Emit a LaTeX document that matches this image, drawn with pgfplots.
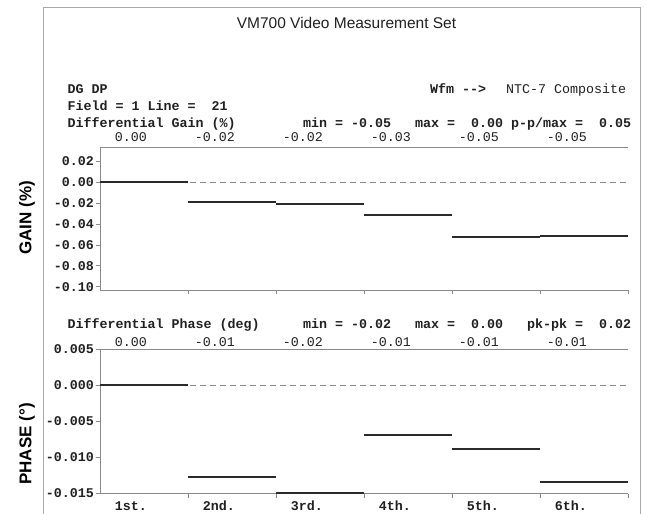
\documentclass[border=0pt]{standalone}
\usepackage{pgfplots}
\pgfplotsset{compat=1.18}
\usepackage{fontspec}
\setmainfont{Liberation Sans}
\setmonofont{Liberation Mono}
\newcommand{\mono}{\fontsize{13.33}{14}\selectfont\ttfamily}
\definecolor{axisgray}{HTML}{8A8A8A}
\definecolor{framegray}{HTML}{A8A8A8}
\definecolor{seg}{HTML}{2A2A2A}
\definecolor{txt}{HTML}{202020}

\pgfplotsset{
  dgstyle/.style={
    scale only axis, width=528pt,
    xmin=0, xmax=6,
    axis x line=box, axis y line=left,
    axis line style={-, draw=axisgray, line width=1pt},
    xtick={1,2,3,4,5,6}, xticklabels={,,,,,}, xtick pos=left,
    scaled y ticks=false,
    tick align=outside, major tick length=4pt,
    every tick/.style={axisgray, line width=0.8pt},
    yticklabel style={font=\mono\bfseries, text=txt, inner sep=2pt},
    clip=false,
  },
}

\begin{document}
\begin{tikzpicture}
\useasboundingbox (0,0) rectangle (646pt,-514pt);
\draw[framegray, line width=1pt] (43pt,-514pt) -- (43pt,-7pt) -- (640pt,-7pt) -- (640pt,-514pt);

% ---------- Gain ----------
\begin{axis}[dgstyle, at={(100pt,-290pt)}, anchor=south west, height=143pt,
  ymin=-0.1031, ymax=0.0338,
  ytick={-0.10,-0.08,-0.06,-0.04,-0.02,0,0.02},
  yticklabels={-0.10,-0.08,-0.06,-0.04,-0.02,0.00,0.02}]
\addplot[axisgray, dash pattern=on 6pt off 4pt, line width=1.2pt] coordinates {(0,0) (6,0)};
\addplot[seg, line width=2pt, jump mark left, mark=none] coordinates {
 (0,0) (1,-0.0186) (2,-0.0210) (3,-0.0316) (4,-0.0526) (5,-0.0517) (6,-0.0517)};
\end{axis}

% ---------- Phase ----------
\begin{axis}[dgstyle, at={(100pt,-493.5pt)}, anchor=south west, height=144.2pt,
  ymin=-0.015, ymax=0.005,
  ytick={-0.015,-0.010,-0.005,0,0.005},
  yticklabels={-0.015,-0.010,-0.005,0.000,0.005}]
\addplot[axisgray, dash pattern=on 6pt off 4pt, line width=1.2pt] coordinates {(0,0) (6,0)};
\addplot[seg, line width=2pt, jump mark left, mark=none] coordinates {
 (0,0) (1,-0.01275) (2,-0.0149) (3,-0.00695) (4,-0.00882) (5,-0.01338) (6,-0.01338)};
\end{axis}

% ---------- texts ----------
\node[anchor=base, inner sep=0, text=txt, font=\fontsize{15.5}{17}\selectfont] at (346.5pt,-28.5pt) {VM700 Video Measurement Set};

\node[anchor=base west, inner sep=0, text=txt, font=\mono\bfseries] at (67.5pt,-93.4pt) {DG~DP};
\node[anchor=base west, inner sep=0, text=txt, font=\mono\bfseries] at (430pt,-93.4pt) {Wfm~-{}->};
\node[anchor=base west, inner sep=0, text=txt, font=\mono] at (506pt,-93.4pt) {NTC-7~Composite};
\node[anchor=base west, inner sep=0, text=txt, font=\mono\bfseries] at (67.5pt,-110.4pt) {Field~=~1~Line~=~~21};
\node[anchor=base west, inner sep=0, text=txt, font=\mono\bfseries] at (67.5pt,-127.4pt) {Differential~Gain~(\%)};
\node[anchor=base west, inner sep=0, text=txt, font=\mono\bfseries] at (303pt,-127.4pt) {min~=~-0.05~~~max~=~~0.00~p-p/max~=~~0.05};

\foreach \v [count=\i from 0] in {0.00,-0.02,-0.02,-0.03,-0.05,-0.05}
  \node[anchor=base east, inner sep=0, text=txt, font=\mono] at ({(147+88*\i)*1pt},-141.7pt) {\v};

\node[anchor=base west, inner sep=0, text=txt, font=\mono\bfseries] at (67.5pt,-328.4pt) {Differential~Phase~(deg)};
\node[anchor=base west, inner sep=0, text=txt, font=\mono\bfseries] at (303pt,-328.4pt) {min~=~-0.02~~~max~=~~0.00~~~pk-pk~=~~0.02};

\foreach \v [count=\i from 0] in {0.00,-0.01,-0.02,-0.01,-0.01,-0.01}
  \node[anchor=base east, inner sep=0, text=txt, font=\mono] at ({(147+88*\i)*1pt},-346.7pt) {\v};

\foreach \v [count=\i from 0] in {1st.,2nd.,3rd.,4th.,5th.,6th.}
  \node[anchor=base east, inner sep=0, text=txt, font=\mono\bfseries] at ({(147+88*\i)*1pt},-510pt) {\v};

\node[rotate=90, inner sep=0, text=black, font=\fontsize{17}{19}\selectfont\bfseries] at (27pt,-218pt) {GAIN (\%)};
\node[rotate=90, inner sep=0, text=black, font=\fontsize{17}{19}\selectfont\bfseries] at (27pt,-444pt) {PHASE (°)};
\end{tikzpicture}
\end{document}
